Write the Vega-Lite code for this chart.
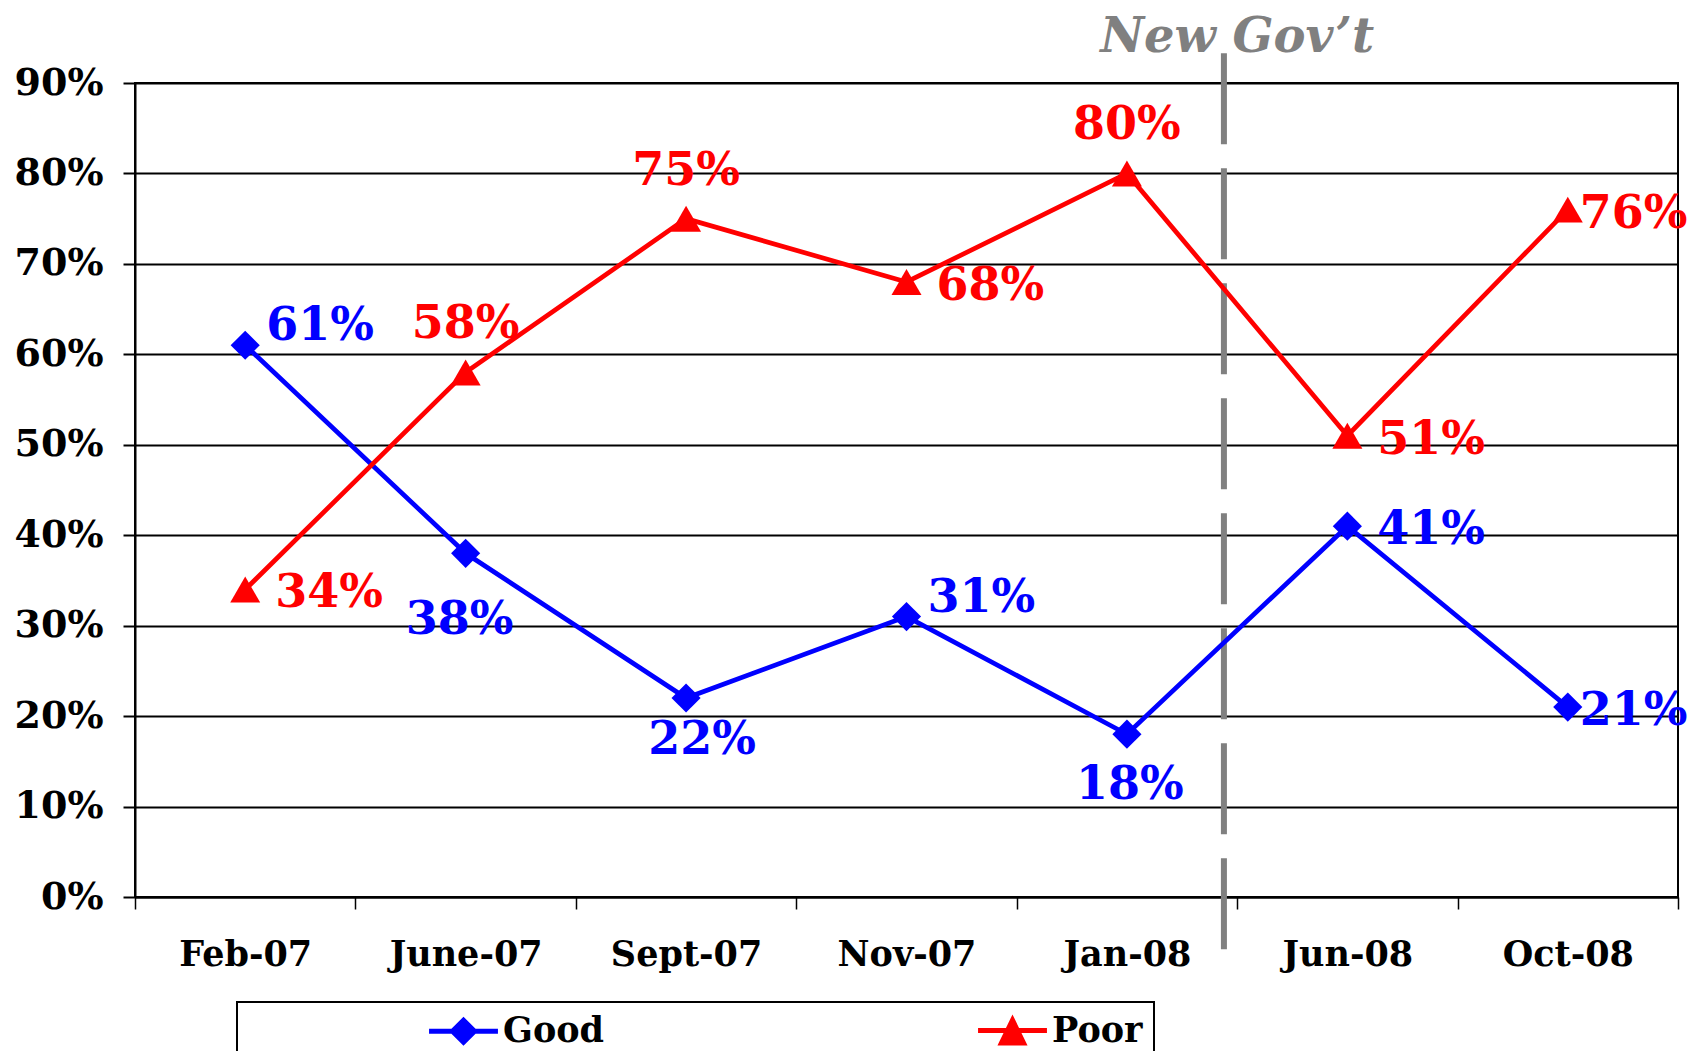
{
  "$schema": "https://vega.github.io/schema/vega-lite/v6.json",
  "width": 1543,
  "height": 814,
  "autosize": "none",
  "padding": {"left": 135, "top": 83, "right": 28, "bottom": 154},
  "background": "white",
  "config": {
    "view": {"stroke": "black", "strokeWidth": 2},
    "font": "DejaVu Serif"
  },
  "data": {
    "values": [
      {"month": "Feb-07", "series": "Good", "value": 0.61},
      {"month": "June-07", "series": "Good", "value": 0.38},
      {"month": "Sept-07", "series": "Good", "value": 0.22},
      {"month": "Nov-07", "series": "Good", "value": 0.31},
      {"month": "Jan-08", "series": "Good", "value": 0.18},
      {"month": "Jun-08", "series": "Good", "value": 0.41},
      {"month": "Oct-08", "series": "Good", "value": 0.21},
      {"month": "Feb-07", "series": "Poor", "value": 0.34},
      {"month": "June-07", "series": "Poor", "value": 0.58},
      {"month": "Sept-07", "series": "Poor", "value": 0.75},
      {"month": "Nov-07", "series": "Poor", "value": 0.68},
      {"month": "Jan-08", "series": "Poor", "value": 0.80},
      {"month": "Jun-08", "series": "Poor", "value": 0.51},
      {"month": "Oct-08", "series": "Poor", "value": 0.76}
    ]
  },
  "encoding": {
    "x": {
      "field": "month",
      "type": "nominal",
      "sort": ["Feb-07", "June-07", "Sept-07", "Nov-07", "Jan-08", "Jun-08", "Oct-08"],
      "scale": {"type": "band", "paddingInner": 0, "paddingOuter": 0},
      "axis": {
        "title": null,
        "tickBand": "extent",
        "tickSize": 12,
        "tickWidth": 1.5,
        "tickColor": "black",
        "domainColor": "black",
        "domainWidth": 2,
        "labelAngle": 0,
        "labelFont": "DejaVu Serif",
        "labelFontSize": 35,
        "labelFontWeight": "bold",
        "labelColor": "black",
        "labelPadding": 28,
        "grid": false
      }
    },
    "y": {
      "field": "value",
      "type": "quantitative",
      "scale": {"domain": [0, 0.9], "nice": false},
      "axis": {
        "title": null,
        "values": [0, 0.1, 0.2, 0.3, 0.4, 0.5, 0.6, 0.7, 0.8, 0.9],
        "format": ".0%",
        "grid": true,
        "gridColor": "black",
        "gridWidth": 2,
        "gridOpacity": 1,
        "tickSize": 12,
        "tickWidth": 2,
        "tickColor": "black",
        "domainColor": "black",
        "domainWidth": 2,
        "labelFont": "DejaVu Serif",
        "labelFontSize": 38,
        "labelFontWeight": "bold",
        "labelColor": "black",
        "labelPadding": 20
      }
    }
  },
  "layer": [
    {
      "transform": [{"filter": "datum.series === 'Good' && datum.month === 'Jan-08'"}],
      "mark": {"type": "rule", "color": "#808080", "strokeWidth": 6, "strokeDash": [91, 24]},
      "encoding": {
        "x": {"field": "month", "type": "nominal", "sort": ["Feb-07", "June-07", "Sept-07", "Nov-07", "Jan-08", "Jun-08", "Oct-08"], "bandPosition": 0.94},
        "y": {"datum": 0.933, "type": "quantitative"},
        "y2": {"datum": -0.059}
      }
    },
    {
      "transform": [{"filter": "datum.series === 'Good' && datum.month === 'Jan-08'"}],
      "mark": {"type": "text", "align": "center", "baseline": "alphabetic", "fontSize": 48, "fontWeight": "bold", "fontStyle": "italic", "font": "DejaVu Serif", "color": "#808080"},
      "encoding": {
        "x": {"field": "month", "type": "nominal", "sort": ["Feb-07", "June-07", "Sept-07", "Nov-07", "Jan-08", "Jun-08", "Oct-08"], "bandPosition": 1},
        "y": {"datum": 0.934, "type": "quantitative"},
        "text": {"value": "New Gov’t"}
      }
    },
    {
      "mark": {"type": "line", "strokeWidth": 4.7},
      "encoding": {
        "color": {
          "field": "series",
          "type": "nominal",
          "scale": {"domain": ["Good", "Poor"], "range": ["#0000FF", "#FF0000"]},
          "legend": {
            "orient": "none",
            "legendX": 102,
            "legendY": 919,
            "direction": "horizontal",
            "columns": 2,
            "title": null,
            "strokeColor": "black",
            "padding": 11,
            "symbolSize": 676,
            "symbolStrokeWidth": 5,
            "symbolOffset": 198,
            "labelOffset": 22,
            "columnPadding": 192,
            "labelLimit": 900,
            "labelFont": "DejaVu Serif",
            "labelFontSize": 35,
            "labelFontWeight": "bold",
            "labelColor": "black",
            "encode": {
              "legend": {"update": {"strokeWidth": {"value": 2}, "width": {"value": 1093}}},
              "symbols": {
                "update": {
                  "shape": {"signal": "datum.value === 'Good' ? 'M-2.65,0L2.65,0M0,-0.85L0.85,0L0,0.85L-0.85,0Z' : 'M-2.65,0L2.65,0M0,-0.8L0.85,0.95L-0.85,0.95Z'"},
                  "fill": {"signal": "datum.value === 'Good' ? '#0000FF' : '#FF0000'"},
                  "stroke": {"signal": "datum.value === 'Good' ? '#0000FF' : '#FF0000'"},
                  "strokeWidth": {"value": 5},
                  "opacity": {"value": 1}
                }
              }
            }
          }
        }
      }
    },
    {
      "transform": [{"filter": "datum.series === 'Good'"}],
      "mark": {"type": "point", "filled": true, "size": 850, "opacity": 1, "shape": "diamond"},
      "encoding": {
        "color": {"field": "series", "type": "nominal", "legend": null}
      }
    },
    {
      "transform": [{"filter": "datum.series === 'Poor'"}],
      "mark": {"type": "point", "filled": true, "size": 900, "opacity": 1, "shape": "triangle-up"},
      "encoding": {
        "color": {"field": "series", "type": "nominal", "legend": null}
      }
    },
    {
      "transform": [{"filter": "datum.series === 'Good' && indexof(['Feb-07','Nov-07'], datum.month) >= 0"}],
      "mark": {"type": "text", "align": "left", "baseline": "middle", "dx": 21, "dy": -19, "fontSize": 46, "fontWeight": "bold", "font": "DejaVu Serif"},
      "encoding": {
        "text": {"field": "value", "type": "quantitative", "format": ".0%"},
        "color": {"field": "series", "type": "nominal", "legend": null}
      }
    },
    {
      "transform": [{"filter": "(datum.series === 'Good' && datum.month === 'Jun-08') || (datum.series === 'Poor' && indexof(['Feb-07','Nov-07','Jun-08'], datum.month) >= 0)"}],
      "mark": {"type": "text", "align": "left", "baseline": "middle", "dx": 30, "dy": 4, "fontSize": 46, "fontWeight": "bold", "font": "DejaVu Serif"},
      "encoding": {
        "text": {"field": "value", "type": "quantitative", "format": ".0%"},
        "color": {"field": "series", "type": "nominal", "legend": null}
      }
    },
    {
      "transform": [{"filter": "datum.month === 'Oct-08'"}],
      "mark": {"type": "text", "align": "left", "baseline": "middle", "dx": 12, "dy": 4, "fontSize": 46, "fontWeight": "bold", "font": "DejaVu Serif"},
      "encoding": {
        "text": {"field": "value", "type": "quantitative", "format": ".0%"},
        "color": {"field": "series", "type": "nominal", "legend": null}
      }
    },
    {
      "transform": [{"filter": "datum.series === 'Good' && datum.month === 'June-07'"}],
      "mark": {"type": "text", "align": "center", "baseline": "middle", "dx": -6, "dy": 67, "fontSize": 46, "fontWeight": "bold", "font": "DejaVu Serif"},
      "encoding": {
        "text": {"field": "value", "type": "quantitative", "format": ".0%"},
        "color": {"field": "series", "type": "nominal", "legend": null}
      }
    },
    {
      "transform": [{"filter": "datum.series === 'Good' && datum.month === 'Sept-07'"}],
      "mark": {"type": "text", "align": "center", "baseline": "middle", "dx": 16, "dy": 42, "fontSize": 46, "fontWeight": "bold", "font": "DejaVu Serif"},
      "encoding": {
        "text": {"field": "value", "type": "quantitative", "format": ".0%"},
        "color": {"field": "series", "type": "nominal", "legend": null}
      }
    },
    {
      "transform": [{"filter": "datum.series === 'Good' && datum.month === 'Jan-08'"}],
      "mark": {"type": "text", "align": "center", "baseline": "middle", "dx": 3, "dy": 51, "fontSize": 46, "fontWeight": "bold", "font": "DejaVu Serif"},
      "encoding": {
        "text": {"field": "value", "type": "quantitative", "format": ".0%"},
        "color": {"field": "series", "type": "nominal", "legend": null}
      }
    },
    {
      "transform": [{"filter": "datum.series === 'Poor' && indexof(['June-07','Sept-07','Jan-08'], datum.month) >= 0"}],
      "mark": {"type": "text", "align": "center", "baseline": "middle", "dy": -48, "fontSize": 46, "fontWeight": "bold", "font": "DejaVu Serif"},
      "encoding": {
        "text": {"field": "value", "type": "quantitative", "format": ".0%"},
        "color": {"field": "series", "type": "nominal", "legend": null}
      }
    }
  ]
}
